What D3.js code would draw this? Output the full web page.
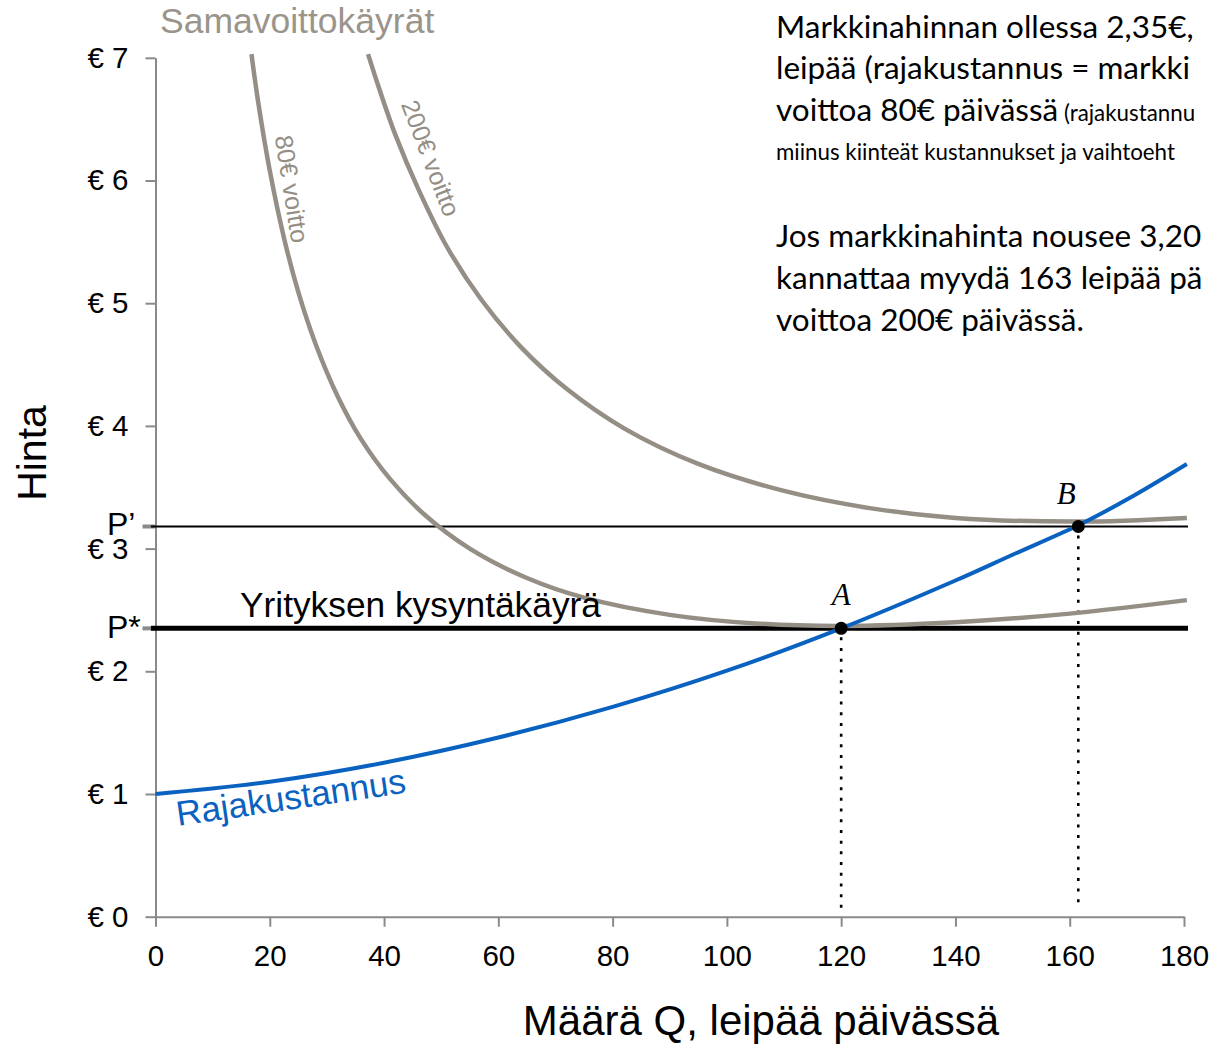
<!DOCTYPE html>
<html>
<head>
<meta charset="utf-8">
<script src="https://cdn.jsdelivr.net/npm/d3@7"></script>
<style>
  body { margin: 0; background: #fff; }
  svg { display: block; }
</style>
</head>
<body>
<svg id="chart"></svg>
<script>
// tick values
const xTicks = [0, 20, 40, 60, 80, 100, 120, 140, 160, 180];
const yTicks = [0, 1, 2, 3, 4, 5, 6, 7];

// marginal cost curve
const mcQ = [0, 20, 40, 60, 80, 100, 120, 140, 150, 161.5, 170, 180.5];
const mcP = [1.00, 1.10, 1.255, 1.46, 1.71, 2.005, 2.35, 2.74, 2.95, 3.19, 3.40, 3.69];

// iso-profit curves
const iso80Q = [16.8, 18, 20, 22.5, 25, 28, 32, 36, 41, 47, 55, 65, 75, 90, 105, 120, 140, 160, 180.5];
const iso80P = [7.03, 6.63, 6.08, 5.53, 5.09, 4.67, 4.23, 3.89, 3.57, 3.28, 3.00, 2.76, 2.60, 2.46, 2.39, 2.37, 2.40, 2.47, 2.58];
const iso200Q = [37.2, 39, 42, 46, 51, 57, 64, 72, 82, 95, 110, 125, 140, 161.5, 180.5];
const iso200P = [7.03, 6.77, 6.37, 5.93, 5.46, 5.03, 4.64, 4.30, 3.98, 3.69, 3.47, 3.33, 3.25, 3.22, 3.25];

// prices and chosen quantities
const pStar = 2.35, pPrime = 3.18;
const qA = 120, qB = 161.5;

// notes in the top right corner
const noteA = ['Markkinahinnan ollessa 2,35€,', 'leipää (rajakustannus = markki', 'voittoa 80€ päivässä'];
const noteASmall = ['(rajakustannu', 'miinus kiinteät kustannukset ja vaihtoeht'];
const noteB = ['Jos markkinahinta nousee 3,20', 'kannattaa myydä 163 leipää pä', 'voittoa 200€ päivässä.'];

const width = 1213, height = 1044;
const grey = '#948e85', blue = '#0a62c0', axisGrey = '#8a8a8a';
const sans = '"Liberation Sans", Arial, sans-serif';

const svg = d3.select('#chart').attr('width', width).attr('height', height);

const x = d3.scaleLinear().domain([0, 180]).range([155.5, 1184]);
const y = d3.scaleLinear().domain([0, 7]).range([916.7, 57.8]);

// axes
const xAxis = svg.append('g')
    .attr('transform', 'translate(0,' + y(0) + ')')
    .call(d3.axisBottom(x).tickValues(xTicks).tickSize(10).tickSizeOuter(0).tickPadding(18));
const yAxis = svg.append('g')
    .attr('transform', 'translate(' + x(0) + ',0)')
    .call(d3.axisLeft(y).tickValues(yTicks).tickSize(10).tickSizeOuter(0).tickPadding(17)
        .tickFormat(d => '€ ' + d));
[xAxis, yAxis].forEach(g => {
    g.selectAll('.domain, .tick line').attr('stroke', axisGrey).attr('stroke-width', 2);
    g.selectAll('text').attr('font-family', sans).attr('font-size', 29.5).attr('fill', '#000');
});

// thick marks for the two prices on the y axis
svg.selectAll('.pmark')
    .data([pStar, pPrime])
    .enter().append('line')
    .attr('x1', x(0) - 13).attr('x2', x(0))
    .attr('y1', d => y(d)).attr('y2', d => y(d))
    .attr('stroke', axisGrey).attr('stroke-width', 4);

// axis titles
svg.append('text')
    .attr('transform', 'translate(46,453) rotate(-90)')
    .attr('text-anchor', 'middle')
    .attr('font-family', sans).attr('font-size', 41)
    .text('Hinta');
svg.append('text')
    .attr('x', 761).attr('y', 1035)
    .attr('text-anchor', 'middle')
    .attr('font-family', sans).attr('font-size', 42)
    .text('Määrä Q, leipää päivässä');

// horizontal demand lines
svg.append('line')
    .attr('x1', x(-0.8)).attr('x2', x(180.7))
    .attr('y1', y(pPrime)).attr('y2', y(pPrime))
    .attr('stroke', '#000').attr('stroke-width', 2);
svg.append('line')
    .attr('x1', x(-0.8)).attr('x2', x(180.7))
    .attr('y1', y(pStar)).attr('y2', y(pStar))
    .attr('stroke', '#000').attr('stroke-width', 5);

// dotted drop lines
svg.selectAll('.drop')
    .data([[qA, pStar], [qB, pPrime]])
    .enter().append('line')
    .attr('x1', d => x(d[0])).attr('x2', d => x(d[0]))
    .attr('y1', d => y(d[1]) + 9).attr('y2', y(0) - 8)
    .attr('stroke', '#000').attr('stroke-width', 2.6)
    .attr('stroke-dasharray', '3,7.7');

// curves
const line = d3.line()
    .x(d => x(d[0]))
    .y(d => y(d[1]))
    .curve(d3.curveCatmullRom.alpha(0.5));

svg.append('path').datum(d3.zip(iso80Q, iso80P))
    .attr('d', line).attr('fill', 'none').attr('stroke', grey).attr('stroke-width', 4.5);
svg.append('path').datum(d3.zip(iso200Q, iso200P))
    .attr('d', line).attr('fill', 'none').attr('stroke', grey).attr('stroke-width', 4.5);
svg.append('path').datum(d3.zip(mcQ, mcP))
    .attr('d', line).attr('fill', 'none').attr('stroke', blue).attr('stroke-width', 4);

// points A and B
const points = [[qA, pStar, 'A', 0], [qB, pPrime, 'B', -12]];
svg.selectAll('.pt')
    .data(points)
    .enter().append('circle')
    .attr('cx', d => x(d[0])).attr('cy', d => y(d[1]))
    .attr('r', 6.5).attr('fill', '#000');
svg.selectAll('.ptlabel')
    .data(points)
    .enter().append('text')
    .attr('x', d => x(d[0]) + d[3]).attr('y', d => y(d[1]) - 23)
    .attr('text-anchor', 'middle')
    .attr('font-family', '"Liberation Serif", "Times New Roman", serif')
    .attr('font-style', 'italic').attr('font-size', 31)
    .text(d => d[2]);

// labels
svg.append('text')
    .attr('x', 107).attr('y', y(pPrime) + 8)
    .attr('font-family', sans).attr('font-size', 32)
    .text('P’');
svg.append('text')
    .attr('x', 107).attr('y', y(pStar) + 10)
    .attr('font-family', sans).attr('font-size', 32)
    .text('P*');
svg.append('text')
    .attr('x', 240).attr('y', 617)
    .attr('font-family', sans).attr('font-size', 35.3)
    .text('Yrityksen kysyntäkäyrä');
svg.append('text')
    .attr('transform', 'translate(178,826) rotate(-8.3)')
    .attr('font-family', sans).attr('font-size', 35).attr('fill', blue)
    .text('Rajakustannus');
svg.append('text')
    .attr('x', 160).attr('y', 33)
    .attr('font-family', sans).attr('font-size', 35.5).attr('fill', '#9a948b')
    .text('Samavoittokäyrät');
svg.append('text')
    .attr('transform', 'translate(292,189) rotate(81)')
    .attr('text-anchor', 'middle').attr('dominant-baseline', 'central')
    .attr('font-family', sans).attr('font-size', 25).attr('fill', grey)
    .text('80€ voitto');
svg.append('text')
    .attr('transform', 'translate(431,158) rotate(69)')
    .attr('text-anchor', 'middle').attr('dominant-baseline', 'central')
    .attr('font-family', sans).attr('font-size', 25).attr('fill', grey)
    .text('200€ voitto');

// note text, sized so that the last line matches the picture
const noteFont = 'Lato, "Open Sans", sans-serif';
const probe = svg.append('text').attr('font-family', noteFont).attr('font-size', 30).text(noteB[2]);
const bigSize = 30 * 308 / probe.node().getComputedTextLength();
probe.remove();
const smallSize = bigSize * 0.71;

const notes = svg.append('g').attr('font-family', noteFont).attr('fill', '#000');
noteA.forEach((t, i) => {
    const tx = notes.append('text').attr('x', 776).attr('y', 37.5 + i * 41.8)
        .attr('font-size', bigSize).text(t);
    if (i === 2) {
        tx.append('tspan').attr('font-size', smallSize).text(' ' + noteASmall[0]);
    }
});
notes.append('text').attr('x', 776).attr('y', 159.5)
    .attr('font-size', smallSize).text(noteASmall[1]);
noteB.forEach((t, i) => {
    notes.append('text').attr('x', 776).attr('y', 247 + i * 42)
        .attr('font-size', bigSize).text(t);
});
</script>
</body>
</html>
